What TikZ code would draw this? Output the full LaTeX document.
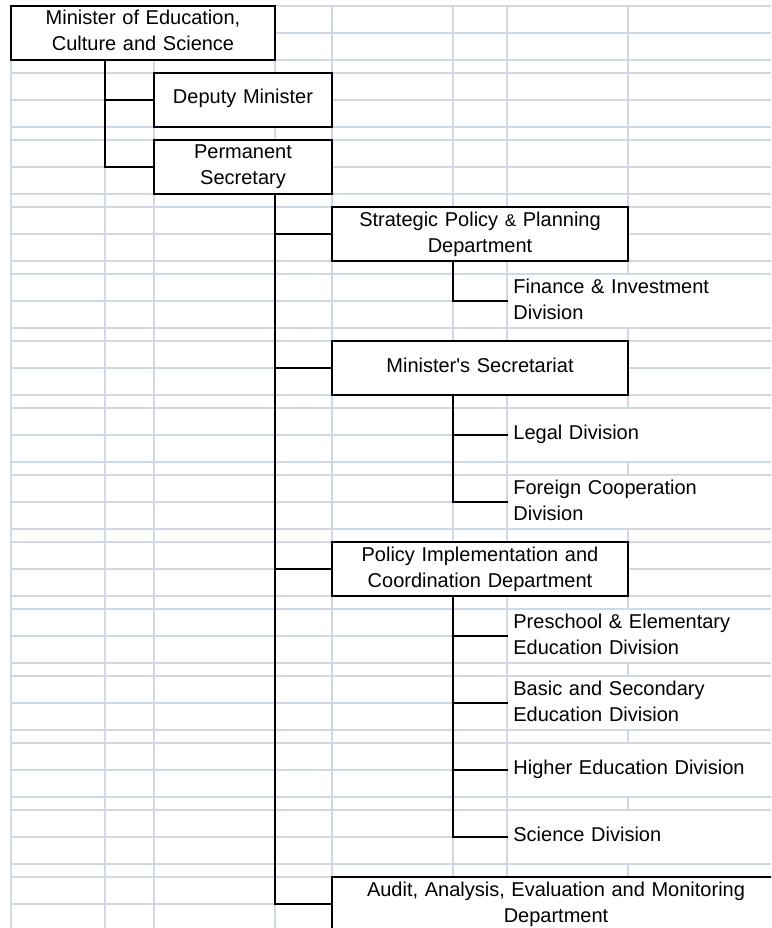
\documentclass[tikz,border=0pt]{standalone}
\usepackage{fontspec}
\setmainfont{Liberation Sans}
\definecolor{gridc}{HTML}{D0D7E5}
\newcommand{\orgfont}{\fontsize{20}{26}\selectfont}
\begin{document}
\begin{tikzpicture}[x=1pt,y=-1pt,
  gridline/.style={draw=gridc, line width=1.4pt},
  box/.style={draw=black, line width=2pt, fill=white, inner sep=0pt, align=center, font=\orgfont},
  oneline/.style={text height=31pt, text depth=23pt},
  twoline/.style={text height=19pt, text depth=35pt},
  divn/.style={fill=white, inner xsep=5.5pt, inner ysep=0pt, text width=262pt, align=left, anchor=west, font=\orgfont},
  donel/.style={text height=30.2pt, text depth=22.2pt},
  dtwol/.style={text height=18.2pt, text depth=34.2pt},
  conn/.style={line width=2pt, line join=miter}]
\useasboundingbox (0,0) rectangle (771,928);
\begin{scope}
\clip (0,0) rectangle (771,928);
% spreadsheet grid
\foreach \k in {0,...,13} {
  \foreach \d in {0,27,54} {
    \pgfmathsetmacro\yy{6+67*\k+\d}
    \draw[gridline] (11,\yy) -- (771,\yy);
  }
}
\foreach \x in {11,105,154,275,332,453,507,628}
  \draw[gridline] (\x,6) -- (\x,928);

% helper coordinates for connector columns
\coordinate (xa) at (105,0);
\coordinate (xb) at (275,0);
\coordinate (xc) at (453,0);

% boxes
\node[box,twoline,text width=264pt] (min) at (143,33) {Minister of Education,\\Culture and Science};
\node[box,oneline,text width=178pt] (dep) at (243,100) {Deputy Minister};
\node[box,twoline,text width=178pt] (perm) at (243,167) {Permanent\\Secretary};
\node[box,twoline,text width=296pt] (strat) at (480,234) {Strategic Policy {\fontsize{17}{26}\selectfont\&} Planning\\Department};
\node[box,oneline,text width=296pt] (msec) at (480,368) {Minister\textquotesingle s Secretariat};
\node[box,twoline,text width=296pt] (pol) at (480,569) {Policy Implementation and\\Coordination Department};
\node[box,twoline,text width=448pt] (aud) at (556,904) {Audit, Analysis, Evaluation and Monitoring\\Department};

% divisions
\node[divn,dtwol] (fin) at (507.7,301) {Finance \& Investment\\Division};
\node[divn,donel] (legal) at (507.7,435) {Legal Division};
\node[divn,dtwol] (forn) at (507.7,502) {Foreign Cooperation\\Division};
\node[divn,dtwol] (pre) at (507.7,636) {Preschool \& Elementary\\Education Division};
\node[divn,dtwol] (basic) at (507.7,703) {Basic and Secondary\\Education Division};
\node[divn,donel] (high) at (507.7,770) {Higher Education Division};
\node[divn,donel] (sci) at (507.7,837) {Science Division};

% connectors
\draw[conn] (min.south -| xa) |- (dep.west);
\draw[conn] (min.south -| xa) |- (perm.west);
\draw[conn] (perm.south -| xb) |- (aud.west);
\draw[conn] (strat.west -| xb) -- (strat.west);
\draw[conn] (msec.west -| xb) -- (msec.west);
\draw[conn] (pol.west -| xb) -- (pol.west);
\draw[conn] (strat.south -| xc) |- (fin.west);
\draw[conn] (msec.south -| xc) |- (forn.west);
\draw[conn] (legal.west -| xc) -- (legal.west);
\draw[conn] (pol.south -| xc) |- (sci.west);
\draw[conn] (pre.west -| xc) -- (pre.west);
\draw[conn] (basic.west -| xc) -- (basic.west);
\draw[conn] (high.west -| xc) -- (high.west);
\end{scope}
\end{tikzpicture}
\end{document}
